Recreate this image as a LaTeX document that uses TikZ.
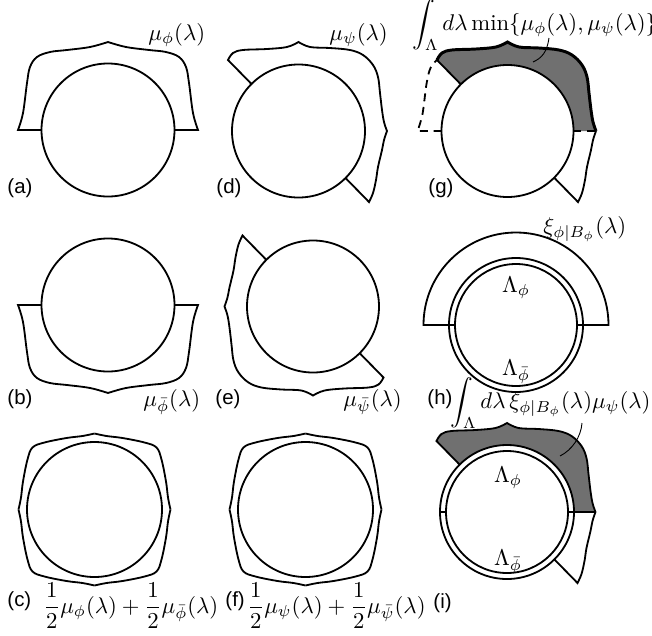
\documentclass[tikz,border=0pt]{standalone}
\usepackage{amsmath,amssymb}
\usepackage{fontspec}
\newfontfamily\tagfont{Liberation Sans}
\usepackage{tikz}
\usetikzlibrary{calc}
\definecolor{RegionGray}{RGB}{112,112,112}
\tikzset{
  tag/.style={font=\tagfont\small,anchor=base west,inner sep=0pt},
  lbl/.style={anchor=base west,inner sep=0pt},
  lam/.style={anchor=base,inner sep=0pt},
  dashline/.style={thick,dash pattern=on 3.5pt off 2.5pt},
  leader/.style={line width=0.4pt}
}
% outline of mu_psi, top part (corner -> right tip) and lower part
\newcommand{\psitop}{-- (-70.5,-71)
  -- plot[smooth,tension=0.6] coordinates {(-70.5,-71) (-65.5,-78) (-55.5,-81) (-31.5,-82) (-11.5,-84) (0,-89)}
  -- plot[smooth,tension=0.6] coordinates {(0,-89) (11.5,-84) (31.5,-83) (51.5,-81) (64.5,-76) (74.5,-66) (79.5,-54) (81.5,-38) (83.5,-21) (85.5,-9) (88.5,0)}}
\newcommand{\psibot}{-- plot[smooth,tension=0.6] coordinates {(88.5,0) (85.5,9) (83.5,19) (79.5,36) (77.5,49) (74.5,62) (70.5,71)} -- (47,47)}
\newcommand{\muphicurve}[3]{%
  \draw[thick,shift={(#1,#2)},#3] (-66.5,0) -- (-90,0)
    -- plot[smooth,tension=0.6] coordinates {(-90,0) (-85,-17) (-81,-47) (-78,-63) (-71,-73) (-58,-78) (-41,-80) (-18,-83) (0,-88)}
    -- plot[smooth,tension=0.6] coordinates {(0,-88) (18,-83) (41,-80) (58,-78) (71,-73) (78,-63) (81,-47) (85,-17) (90,0)}
    -- (66.5,0);}
\newcommand{\mupsicurve}[3]{%
  \draw[thick,shift={(#1,#2)},#3] (-47,-47) \psitop \psibot;}
\newcommand{\halfcurve}[2]{%
  \foreach \a in {0,90,180,270}
    \draw[thick,shift={(#1,#2)},rotate=\a] plot[smooth,tension=0.6] coordinates {(0,-76) (-12,-73.5) (-28,-71.5) (-50,-67) (-62,-62) (-67,-50) (-71.5,-28) (-73.5,-12) (-76,0)};}
\newcommand{\ringpair}{%
  \draw[thick] (0,0) circle[radius=67] (0,0) circle[radius=61];
  \draw[thick] (-67,0) -- (-61,0) (61,0) -- (67,0);}

\begin{document}
\begin{tikzpicture}[x=0.44pt,y=-0.44pt]
  \useasboundingbox (0,0) rectangle (652,635);
  % (a)
  \draw[thick] (108,130) circle[radius=66.5];
  \muphicurve{108}{130}{}
  \node[lbl] (mua) at (148,40) {$\mu_\phi(\lambda)$};
  \node[tag] (taga) at (7,193) {(a)};
  % (b)
  \draw[thick] (108,305) circle[radius=66.5];
  \muphicurve{108}{305}{rotate=180}
  \node[lbl] (mub) at (143,406) {$\mu_{\bar{\phi}}(\lambda)$};
  \node[tag] (tagb) at (7,404) {(b)};
  % (c)
  \draw[thick] (94.5,509.5) circle[radius=67.5];
  \halfcurve{94.5}{509.5}
  \node[lbl] (muc) at (43,613) {$\displaystyle\frac{1}{2}\mu_\phi(\lambda)+\frac{1}{2}\mu_{\bar{\phi}}(\lambda)$};
  \node[tag] (tagc) at (7,606) {(c)};
  % (d)
  \draw[thick] (298.5,131) circle[radius=66.5];
  \mupsicurve{298.5}{131}{}
  \node[lbl] (mud) at (329,40) {$\mu_\psi(\lambda)$};
  \node[tag] (tagd) at (216,193) {(d)};
  % (e)
  \draw[thick] (313,306.5) circle[radius=66];
  \mupsicurve{313}{306.5}{rotate=180}
  \node[lbl] (mue) at (343,406) {$\mu_{\bar{\psi}}(\lambda)$};
  \node[tag] (tage) at (215,404) {(e)};
  % (f)
  \draw[thick] (305.5,509.5) circle[radius=67.5];
  \halfcurve{305.5}{509.5}
  \node[lbl] (muf) at (247,613) {$\displaystyle\frac{1}{2}\mu_\psi(\lambda)+\frac{1}{2}\mu_{\bar{\psi}}(\lambda)$};
  \node[tag] (tagf) at (225,606) {(f)};
  % (g)
  \begin{scope}[shift={(507.5,131)}]
    \fill[RegionGray] (-47,-47) \psitop -- (66,0) arc[start angle=0,end angle=-135,radius=66] -- cycle;
    \draw[dashline] (-66,0) -- (-90,0)
      -- plot[smooth,tension=0.6] coordinates {(-90,0) (-85,-17) (-81,-47) (-77,-63) (-70.5,-71)};
    \draw[dashline] (66,0) -- (88.5,0);
    \draw[thick] (-47,-47) -- (-70.5,-71);
    \draw[line width=1.3pt] (-70.5,-71) \psitop;
    \draw[thick] (88.5,0) \psibot;
    \draw[thick] (0,0) circle[radius=66];
  \end{scope}
  \node[lbl] (gform) at (412,30) {$\displaystyle\int_\Lambda d\lambda\min\{\mu_\phi(\lambda),\mu_\psi(\lambda)\}$};
  \coordinate (gfrom) at (549,38);
  \coordinate (gend) at (533,62);
  \draw[leader] (gfrom) .. controls (547,52) and (542,58) .. (gend);
  \node[tag] (tagg) at (428,193) {(g)};
  % (h)
  \begin{scope}[shift={(516,325)}]
    \draw[thick] (-67,0) -- (-92.5,0) arc[start angle=180,end angle=360,radius=92.5] -- (67,0);
    \ringpair
  \end{scope}
  \node[lam] (hlamphi) at (516,292) {$\Lambda_\phi$};
  \node[lam] (hlambar) at (516,375) {$\Lambda_{\bar{\phi}}$};
  \node[lbl] (xih) at (543,233) {$\xi_{\phi|B_\phi}(\lambda)$};
  \node[tag] (tagh) at (427,404) {(h)};
  % (i)
  \begin{scope}[shift={(507,512)}]
    \fill[RegionGray] (-47.4,-47.4) \psitop -- (67,0) arc[start angle=0,end angle=-135,radius=67] -- cycle;
    \draw[thick] (-47.4,-47.4) \psitop \psibot;
    \draw[thick] (67,0) -- (88.5,0);
    \ringpair
  \end{scope}
  \node[lam] (ilamphi) at (508,482) {$\Lambda_\phi$};
  \node[lam] (ilambar) at (508,565) {$\Lambda_{\bar{\phi}}$};
  \node[lbl] (iform) at (450,408) {$\displaystyle\int_\Lambda d\lambda\,\xi_{\phi|B_\phi}(\lambda)\mu_\psi(\lambda)$};
  \coordinate (ifrom) at (582,423);
  \coordinate (iend) at (560,456);
  \draw[leader] (ifrom) .. controls (581,437) and (572,450) .. (iend);
  \node[tag] (tagi) at (433,608) {(i)};
\end{tikzpicture}
\end{document}
